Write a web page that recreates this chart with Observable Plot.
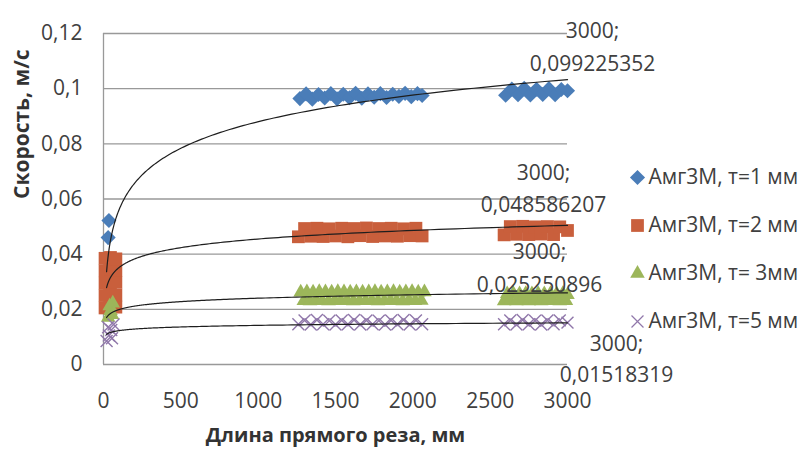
<!DOCTYPE html>
<html>
<head>
<meta charset="utf-8">
<script src="https://cdn.jsdelivr.net/npm/d3@7"></script>
<script src="https://cdn.jsdelivr.net/npm/@observablehq/plot@0.6"></script>
<style>
  html, body { margin: 0; padding: 0; background: #fff; }
  #wrap { position: relative; width: 802px; height: 452px; overflow: hidden; }
  #legend { position: absolute; left: 622px; top: 152px; }
</style>
</head>
<body>
<div id="wrap"></div>
<script>
// ---- data ----
const seriesNames = ["Амг3М, т=1 мм", "Амг3М, т=2 мм", "Амг3М, т= 3мм", "Амг3М, т=5 мм"];
const xTicks = [0, 500, 1000, 1500, 2000, 2500, 3000];
const yTicks = [0, 0.02, 0.04, 0.06, 0.08, 0.1, 0.12];

// series 1 (т=1 мм)
const s1x = [30, 35,
  1270, 1310, 1350, 1390, 1430, 1470, 1510, 1550, 1590, 1630, 1670, 1710, 1750, 1790, 1830, 1870, 1910, 1950, 1990, 2030, 2060,
  2600, 2640, 2680, 2720, 2760, 2800, 2840, 2880, 2920, 2960, 3000];
const s1y = [0.046, 0.0522,
  0.0964, 0.0981, 0.0962, 0.0979, 0.0966, 0.0982, 0.0963, 0.0980, 0.0967, 0.0983, 0.0965, 0.0981, 0.0969, 0.0982, 0.0968, 0.0980, 0.0972, 0.0983, 0.0971, 0.0982, 0.0975,
  0.0976, 0.0999, 0.0978, 0.1001, 0.0977, 0.0998, 0.0979, 0.1000, 0.0978, 0.0997, 0.099225352];

// series 2 (т=2 мм)
const s2x = [10, 10, 10, 10, 10, 45, 45, 45, 45, 45, 80, 80, 80, 80, 80,
  1260, 1300, 1340, 1380, 1420, 1460, 1500, 1540, 1580, 1620, 1660, 1700, 1740, 1780, 1820, 1860, 1900, 1940, 1980, 2020, 2060,
  2590, 2630, 2670, 2710, 2750, 2790, 2830, 2870, 2910, 2950, 3000];
const s2y = [0.0205, 0.025, 0.0295, 0.034, 0.0385, 0.021, 0.0255, 0.030, 0.0345, 0.0388, 0.0208, 0.0252, 0.0298, 0.0342, 0.0383,
  0.0463, 0.0493, 0.0465, 0.0494, 0.0464, 0.0492, 0.0466, 0.0494, 0.0463, 0.0493, 0.0467, 0.0495, 0.0464, 0.0493, 0.0466, 0.0494, 0.0465, 0.0492, 0.0467, 0.0494, 0.0466,
  0.0470, 0.0500, 0.0472, 0.0501, 0.0471, 0.0499, 0.0473, 0.0500, 0.0471, 0.0499, 0.048586207];

// series 3 (т=3 мм)
const s3x = [30, 45, 60, 40, 55,
  1275, 1295, 1315, 1335, 1355, 1375, 1395, 1415, 1435, 1455, 1475, 1495, 1515, 1535, 1555, 1575, 1595, 1615, 1635, 1655, 1675,
  1695, 1715, 1735, 1755, 1775, 1795, 1815, 1835, 1855, 1875, 1895, 1915, 1935, 1955, 1975, 1995, 2015, 2035, 2055, 2075,
  2590, 2610, 2630, 2650, 2670, 2690, 2710, 2730, 2750, 2770, 2790, 2810, 2830, 2850, 2870, 2890, 2910, 2930, 2950, 2970, 2990, 3000];
const s3y = [0.017, 0.0195, 0.0222, 0.0212, 0.018,
  0.0262, 0.0231, 0.0263, 0.0230, 0.0262, 0.0232, 0.0264, 0.0231, 0.0263, 0.0230, 0.0262, 0.0232, 0.0264, 0.0231, 0.0263, 0.0232, 0.0262, 0.0230, 0.0263, 0.0231, 0.0262,
  0.0231, 0.0263, 0.0232, 0.0264, 0.0230, 0.0262, 0.0231, 0.0263, 0.0232, 0.0264, 0.0231, 0.0262, 0.0230, 0.0263, 0.0232, 0.0264, 0.0231, 0.0262, 0.0232, 0.0263,
  0.0230, 0.0256, 0.0231, 0.0257, 0.0230, 0.0256, 0.0232, 0.0257, 0.0230, 0.0256, 0.0231, 0.0257, 0.0230, 0.0256, 0.0232, 0.0257, 0.0231, 0.0256, 0.0230, 0.0257, 0.0231, 0.025250896];

// series 4 (т=5 мм)
const s4x = [20, 35, 50, 65, 30, 55,
  1260, 1300, 1340, 1380, 1420, 1460, 1500, 1540, 1580, 1620, 1660, 1700, 1740, 1780, 1820, 1860, 1900, 1940, 1980, 2020, 2060,
  2590, 2630, 2670, 2710, 2750, 2790, 2830, 2870, 2910, 2950, 3000];
const s4y = [0.0085, 0.0105, 0.0125, 0.0145, 0.0135, 0.0095,
  0.0146, 0.0160, 0.0145, 0.0161, 0.0146, 0.0159, 0.0145, 0.0160, 0.0146, 0.0161, 0.0145, 0.0160, 0.0146, 0.0159, 0.0145, 0.0160, 0.0146, 0.0161, 0.0145, 0.0160, 0.0146,
  0.0146, 0.0160, 0.0145, 0.0161, 0.0146, 0.0159, 0.0145, 0.0160, 0.0146, 0.0160, 0.01518319];

// logarithmic trend lines y = a*ln(x) + b
const trendA = [0.0139, 0.0045, 0.00179, 0.00083];
const trendB = [-0.0080, 0.0144, 0.01167, 0.00845];
const trendFrom = 20, trendTo = 3000;

// data labels at the last point
const labelX = [3000, 3000, 3000, 3000];
const labelY = [0.099225352, 0.048586207, 0.025250896, 0.01518319];

// ---- build ----
const colors = ["#4a7db8", "#c95f3c", "#9cb65a", "#9077aa"];
const toPts = (xs, ys, s) => xs.map((x, i) => ({x, y: ys[i], s}));
const pts = [toPts(s1x, s1y, 0), toPts(s2x, s2y, 1), toPts(s3x, s3y, 2), toPts(s4x, s4y, 3)];

const trend = [];
for (let s = 0; s < 4; s++) {
  const n = 200;
  for (let i = 0; i <= n; i++) {
    const x = Math.exp(Math.log(trendFrom) + (Math.log(trendTo) - Math.log(trendFrom)) * i / n);
    trend.push({s, x, y: trendA[s] * Math.log(x) + trendB[s]});
  }
}

const fmtComma = v => String(v).replace(".", ",");
const labels = labelX.map((x, i) => ({x, y: labelY[i], t: `${x};\n${fmtComma(labelY[i])}`}));
const labelOff = [[25, -47], [-24, -45], [-28, -30], [49, 34]];
const labelLH = [1.6, 1.55, 1.6, 1.5];

const font = "'Open Sans', 'DejaVu Sans', sans-serif";

const chart = Plot.plot({
  width: 802,
  height: 452,
  marginLeft: 103,
  marginRight: 235,
  marginTop: 33,
  marginBottom: 88,
  style: {fontFamily: font, fontSize: "21px", color: "#404040", background: "#fff", overflow: "visible"},
  x: {domain: [0, 3000], ticks: xTicks, tickFormat: d => String(d), tickSize: 0, tickPadding: 29, label: null},
  y: {domain: [0, 0.12], ticks: yTicks, tickFormat: d => fmtComma(d), tickSize: 0, tickPadding: 21, label: null},
  marks: [
    Plot.gridY(yTicks, {stroke: "#999", strokeOpacity: 1, strokeWidth: 1.3}),
    Plot.ruleX([0], {stroke: "#999", strokeWidth: 1.3}),
    Plot.dot(pts[0], {x: "x", y: "y", symbol: "diamond2", r: 6.8, fill: colors[0]}),
    Plot.dot(pts[1], {x: "x", y: "y", symbol: "square", r: 7.2, fill: colors[1]}),
    Plot.dot(pts[2], {x: "x", y: "y", symbol: "triangle", r: 5.4, fill: colors[2]}),
    Plot.dot(pts[3], {x: "x", y: "y", symbol: "times", r: 5.5, stroke: colors[3], strokeWidth: 1.4, fill: "none"}),
    Plot.line(trend, {x: "x", y: "y", z: "s", stroke: "#1e1e1e", strokeWidth: 1.2}),
    ...labels.map((d, i) => Plot.text([d], {x: "x", y: "y", text: "t", dx: labelOff[i][0], dy: labelOff[i][1],
      lineHeight: labelLH[i], fontSize: 21, fill: "#404040"})),
    Plot.text(["Скорость, м/с"], {frameAnchor: "left", dx: -81, rotate: -90, fontWeight: "bold", fontSize: 21, fill: "#333"}),
    Plot.text(["Длина прямого реза, мм"], {frameAnchor: "bottom", dy: 77, fontWeight: "bold", fontSize: 20, fill: "#333"})
  ]
});

const legendSymbols = ["diamond2", "square", "triangle", "times"];
const legendR = [6.8, 7.2, 5.4, 5.5];
const legendData = seriesNames.map((name, i) => ({name, i}));

const legend = Plot.plot({
  width: 180,
  height: 200,
  margin: 0,
  style: {fontFamily: font, fontSize: "21px", color: "#404040", background: "transparent", overflow: "visible"},
  y: {type: "point", domain: seriesNames, range: [24, 170], padding: 0, axis: null},
  marks: [
    ...legendData.map(d => Plot.dot([d], {
      y: "name", frameAnchor: "left", dx: 15, symbol: legendSymbols[d.i], r: legendR[d.i],
      ...(d.i === 3 ? {stroke: colors[3], strokeWidth: 1.2, fill: "none"} : {fill: colors[d.i]})
    })),
    Plot.text(legendData, {y: "name", text: "name", frameAnchor: "left", dx: 26, textAnchor: "start", fill: "#404040", fontSize: 21})
  ]
});
legend.id = "legend";

const wrap = document.getElementById("wrap");
wrap.appendChild(chart);
wrap.appendChild(legend);
</script>
</body>
</html>
